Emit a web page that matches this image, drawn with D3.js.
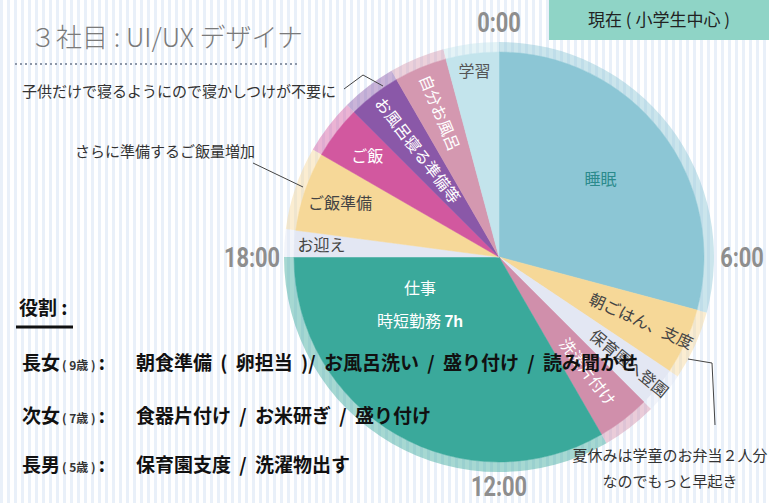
<!DOCTYPE html>
<html>
<head>
<meta charset="utf-8">
<script src="https://cdn.jsdelivr.net/npm/d3@7"></script>
<style>
  body { margin: 0; background: #fff; }
  svg text { font-family: "Noto Sans CJK JP", "Noto Sans", sans-serif; }
  .hour { font-family: "Roboto", "Liberation Sans", sans-serif !important; font-weight: bold; fill: #8e8e8e; font-size: 28px; }
  .slice-label { font-size: 16px; }
  .note { font-size: 15px; fill: #333; }
  .role { font-size: 19px; font-weight: bold; fill: #111; }
</style>
</head>
<body>
<div class="chart"></div>
<script>
// 1日の時間割 (時間)
const activities = ["睡眠", "朝ごはん、支度", "保育園へ登園", "洗濯片付け", "仕事", "お迎え", "ご飯準備", "ご飯", "お風呂寝る準備等", "自分お風呂", "学習"];
const hours = [7, 1.25, 0.75, 1, 8, 0.5, 1.5, 1, 1, 1, 1];
const sliceColors = ["#8cc6d5", "#f6d898", "#e3e7f3", "#d08fab", "#3aa99b", "#e3e7f3", "#f6d898", "#d2589f", "#8a58a8", "#d498b0", "#c3e4ec"];
const hourTicks = ["0:00", "6:00", "12:00", "18:00"];
const tickHours = [0, 6, 12, 18];

const roleNames = ["長女", "次女", "長男"];
const roleAges = ["9歳", "7歳", "5歳"];
const roleTasks = [
  "朝食準備 ( 卵担当 )/ お風呂洗い / 盛り付け / 読み聞かせ",
  "食器片付け / お米研ぎ / 盛り付け",
  "保育園支度 / 洗濯物出す"
];

// label layout: radius, mode, colour
const labelLayout = [
  { r: 128, mode: "h", color: "#2b8a8c", size: 17 },
  { r: 156, mode: "out", color: "#444" },
  { r: 168, mode: "out", color: "#444", size: 14 },
  { r: 145, mode: "out", color: "#fff" },
  { r: 0, mode: "work", color: "#fff" },
  { r: 178, mode: "h", color: "#444" },
  { r: 168, mode: "h", color: "#444" },
  { r: 166, mode: "h", color: "#fff", size: 18 },
  { r: 134, mode: "in", color: "#fff" },
  { r: 156, mode: "in", color: "#fff" },
  { r: 187, mode: "h", color: "#555" }
];
const tickRadius = [235, 243, 229, 247];

const width = 769, height = 503;
const cx = 499, cy = 257;
const rInner = 205, rOuter = 215;

const svg = d3.select(".chart").append("svg")
  .attr("width", width)
  .attr("height", height);

// striped background
const defs = svg.append("defs");
const pat = defs.append("pattern")
  .attr("id", "stripes")
  .attr("width", 7)
  .attr("height", 10)
  .attr("patternUnits", "userSpaceOnUse");
pat.append("rect").attr("width", 7).attr("height", 10).attr("fill", "#fff");
pat.append("rect").attr("width", 3).attr("height", 10).attr("fill", "#e9f0f9");

svg.append("rect")
  .attr("width", width)
  .attr("height", height)
  .attr("fill", "url(#stripes)");

// title
svg.append("text")
  .attr("x", 30)
  .attr("y", 47)
  .attr("fill", "#7a7a7a")
  .attr("font-size", 26)
  .attr("font-weight", 300)
  .text("３社目 : UI/UX デザイナ");

svg.append("line")
  .attr("x1", 15).attr("x2", 300)
  .attr("y1", 64).attr("y2", 64)
  .attr("stroke", "#8d97a8")
  .attr("stroke-width", 2)
  .attr("stroke-dasharray", "2,3");

// header box
svg.append("rect")
  .attr("x", 549).attr("y", 0)
  .attr("width", 220).attr("height", 40)
  .attr("fill", "#8fd4c6");
svg.append("text")
  .attr("x", 659).attr("y", 26)
  .attr("text-anchor", "middle")
  .attr("font-size", 17)
  .attr("fill", "#222")
  .text("現在 ( 小学生中心 )");

// pie
const angle = d3.scaleLinear().domain([0, 24]).range([0, 2 * Math.PI]);
const pie = d3.pie().sort(null).value(d => d)
  .startAngle(0).endAngle(2 * Math.PI);
const arcs = pie(hours);

const g = svg.append("g").attr("transform", `translate(${cx},${cy})`);

const ring = d3.arc().innerRadius(rInner).outerRadius(rOuter);
const wedge = d3.arc().innerRadius(0).outerRadius(rInner);

g.selectAll("path.ring")
  .data(arcs)
  .enter()
  .append("path")
    .attr("class", "ring")
    .attr("d", ring)
    .attr("fill", (d, i) => sliceColors[i])
    .attr("opacity", 0.45);

g.selectAll("path.slice")
  .data(arcs)
  .enter()
  .append("path")
    .attr("class", "slice")
    .attr("d", wedge)
    .attr("fill", (d, i) => sliceColors[i])
    .attr("stroke", (d, i) => sliceColors[i])
    .attr("stroke-width", 0.5);

// slice labels
arcs.forEach((d, i) => {
  const L = labelLayout[i];
  const mid = (d.startAngle + d.endAngle) / 2;
  const deg = mid * 180 / Math.PI;
  const x = L.r * Math.sin(mid), y = -L.r * Math.cos(mid);
  if (L.mode === "work") {
    g.append("text")
      .attr("class", "slice-label")
      .attr("x", -79).attr("y", 37)
      .attr("text-anchor", "middle")
      .attr("fill", L.color)
      .attr("font-size", 17)
      .text("仕事");
    const t2 = g.append("text")
      .attr("class", "slice-label")
      .attr("x", -79).attr("y", 70)
      .attr("text-anchor", "middle")
      .attr("fill", L.color)
      .attr("font-size", 17);
    t2.append("tspan").text("時短勤務 ");
    t2.append("tspan").attr("font-weight", "bold").attr("font-family", "Liberation Sans, sans-serif").text("7h");
    return;
  }
  let rot = 0;
  if (L.mode === "out") rot = deg - 90;
  if (L.mode === "in") rot = deg - 270;
  g.append("text")
    .attr("class", "slice-label")
    .attr("transform", `translate(${x},${y}) rotate(${rot})`)
    .attr("text-anchor", "middle")
    .attr("dy", "0.35em")
    .attr("fill", L.color)
    .attr("font-size", L.size || 16)
    .text(activities[i]);
});

// hour labels (narrowed)
g.selectAll("text.hour")
  .data(hourTicks)
  .enter()
  .append("text")
    .attr("class", "hour")
    .attr("text-anchor", "middle")
    .attr("dy", "0.36em")
    .attr("transform", (d, i) => {
      const a = angle(tickHours[i]);
      return `translate(${tickRadius[i] * Math.sin(a)},${-tickRadius[i] * Math.cos(a)}) scale(0.78,1)`;
    })
    .text(d => d);

// notes with leader lines
const lineColor = "#444";
svg.append("text").attr("class", "note").attr("x", 22).attr("y", 97)
  .text("子供だけで寝るようにので寝かしつけが不要に");
svg.append("polyline")
  .attr("points", "344,89 363,75 383,86")
  .attr("fill", "none").attr("stroke", lineColor).attr("stroke-width", 1);

svg.append("text").attr("class", "note").attr("x", 75).attr("y", 157)
  .text("さらに準備するご飯量増加");
svg.append("polyline")
  .attr("points", "253,163 303,187")
  .attr("fill", "none").attr("stroke", lineColor).attr("stroke-width", 1);

svg.append("text").attr("class", "note").attr("x", 670).attr("y", 461)
  .attr("text-anchor", "middle")
  .text("夏休みは学童のお弁当２人分");
svg.append("text").attr("class", "note").attr("x", 670).attr("y", 487)
  .attr("text-anchor", "middle")
  .text("なのでもっと早起き");
svg.append("polyline")
  .attr("points", "688,359 712,363 715,425")
  .attr("fill", "none").attr("stroke", lineColor).attr("stroke-width", 1);

// roles
svg.append("text")
  .attr("class", "role")
  .attr("x", 19).attr("y", 315)
  .text("役割 :");
svg.append("line")
  .attr("x1", 16).attr("x2", 73)
  .attr("y1", 327).attr("y2", 327)
  .attr("stroke", "#111").attr("stroke-width", 3);

const rowY = [370, 423, 472];
roleNames.forEach((name, i) => {
  const t = svg.append("text")
    .attr("class", "role")
    .attr("x", 22).attr("y", rowY[i]);
  t.append("tspan").text(name);
  t.append("tspan").attr("font-size", 12).attr("dx", 2).attr("fill", "#333").text("( " + roleAges[i] + " )");
  t.append("tspan").attr("dx", 3).text(":");
  svg.append("text")
    .attr("class", "role")
    .attr("x", 136).attr("y", rowY[i])
    .attr("word-spacing", 4)
    .text(roleTasks[i]);
});
</script>
</body>
</html>
